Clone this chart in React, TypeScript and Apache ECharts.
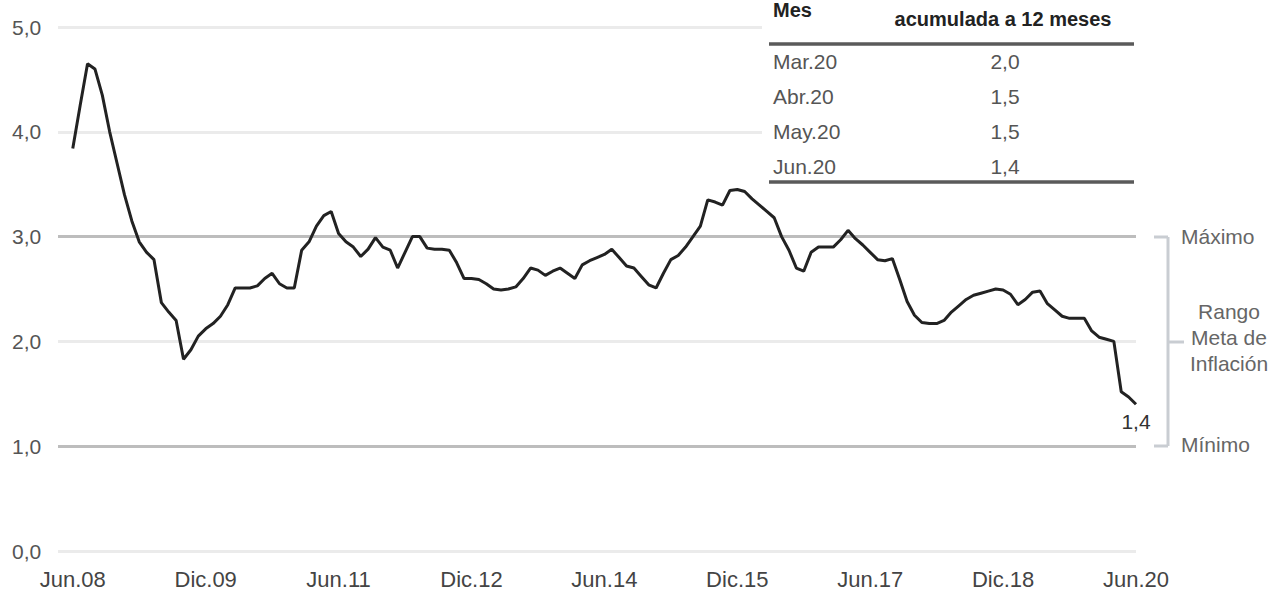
import React, { useEffect, useRef } from "react";
import * as echarts from "echarts";

// Monthly 12-month inflation, Jun.08 .. Jun.20 (145 points)
const INFLATION: number[] = [
  3.84, 4.25, 4.65, 4.6, 4.35, 4.0, 3.7, 3.4, 3.15, 2.95, 2.85, 2.78,
  2.37, 2.28, 2.2, 1.83, 1.92, 2.05, 2.12, 2.17, 2.24, 2.35, 2.51, 2.51,
  2.51, 2.53, 2.6, 2.65, 2.55, 2.51, 2.51, 2.87, 2.95, 3.1, 3.2, 3.24,
  3.03, 2.95, 2.9, 2.81, 2.88, 2.99, 2.9, 2.87, 2.7, 2.85, 3.0, 3.0,
  2.89, 2.88, 2.88, 2.87, 2.75, 2.6, 2.6, 2.59, 2.55, 2.5, 2.49, 2.5,
  2.52, 2.6, 2.7, 2.68, 2.63, 2.67, 2.7, 2.65, 2.6, 2.73, 2.77, 2.8,
  2.83, 2.88, 2.8, 2.72, 2.7, 2.62, 2.54, 2.51, 2.65, 2.78, 2.82, 2.9,
  3.0, 3.1, 3.35, 3.33, 3.3, 3.44, 3.45, 3.43, 3.36, 3.3, 3.24, 3.18,
  3.0, 2.87, 2.7, 2.67, 2.85, 2.9, 2.9, 2.9, 2.97, 3.06, 2.98, 2.92,
  2.85, 2.78, 2.77, 2.79, 2.59, 2.38, 2.25, 2.18, 2.17, 2.17, 2.2, 2.28,
  2.34, 2.4, 2.44, 2.46, 2.48, 2.5, 2.49, 2.45, 2.35, 2.4, 2.47, 2.48,
  2.36, 2.3, 2.24, 2.22, 2.22, 2.22, 2.1, 2.04, 2.02, 2.0, 1.52, 1.47,
  1.4,
];

const MONTH_NAMES = ["Ene", "Feb", "Mar", "Abr", "May", "Jun", "Jul", "Ago", "Sep", "Oct", "Nov", "Dic"];
const START_MONTH = 5; // Jun
const START_YEAR = 8; // 2008
const LEAD_PAD = 2; // empty slots left of the first month
const LABEL_EVERY = 18;

const Y_TICKS = [0, 1, 2, 3, 4, 5];
const TARGET_MAX = 3;
const TARGET_MIN = 1;

const TABLE_MONTHS = ["Mar.20", "Abr.20", "May.20", "Jun.20"];
const TABLE_VALUES = [2.0, 1.5, 1.5, 1.4];

const comma = (v: number) => v.toFixed(1).replace(".", ",");

const MONTH_LABELS: string[] = INFLATION.map((_, i) => {
  const m = START_MONTH + i;
  const y = START_YEAR + Math.floor(m / 12);
  return MONTH_NAMES[m % 12] + "." + String(y).padStart(2, "0");
});

const CATEGORIES = [...Array(LEAD_PAD).fill(""), ...MONTH_LABELS];

const FONT = "'Liberation Sans', Arial, sans-serif";

export default function App() {
  const ref = useRef<HTMLDivElement>(null);

  useEffect(() => {
    if (!ref.current) return;
    const chart = echarts.init(ref.current, undefined, { renderer: "svg" });

    const lastVal = INFLATION[INFLATION.length - 1];
    const seriesData: any[] = [...Array(LEAD_PAD).fill(null), ...INFLATION];

    const tFont = `21px ${FONT}`;
    const tableText: any[] = [];
    tableText.push({
      type: "rect",
      shape: { x: 762, y: 0, width: 380, height: 188 },
      style: { fill: "#fff" },
      z: 10,
    });
    tableText.push({
      type: "text",
      x: 773,
      y: 0,
      z: 11,
      style: { text: "Mes", font: `bold 20px ${FONT}`, fill: "#222", verticalAlign: "top" },
    });
    tableText.push({
      type: "text",
      x: 1003,
      y: 19,
      z: 11,
      style: {
        text: "acumulada a 12 meses",
        font: `bold 20px ${FONT}`,
        fill: "#222",
        align: "center",
        verticalAlign: "middle",
      },
    });
    tableText.push({
      type: "line",
      z: 11,
      shape: { x1: 769, y1: 44, x2: 1134, y2: 44 },
      style: { stroke: "#5a5a5a", lineWidth: 3.5 },
    });
    TABLE_MONTHS.forEach((m, k) => {
      const y = 61 + k * 35.3;
      tableText.push({
        type: "text",
        x: 773,
        y,
        z: 11,
        style: { text: m, font: tFont, fill: "#555", align: "left", verticalAlign: "middle" },
      });
      tableText.push({
        type: "text",
        x: 1005,
        y,
        z: 11,
        style: {
          text: comma(TABLE_VALUES[k]),
          font: tFont,
          fill: "#555",
          align: "center",
          verticalAlign: "middle",
        },
      });
    });
    tableText.push({
      type: "line",
      z: 11,
      shape: { x1: 769, y1: 182, x2: 1134, y2: 182 },
      style: { stroke: "#5a5a5a", lineWidth: 3.5 },
    });

    const bracketColor = "#c9cdd2";
    const annot: any[] = [
      { type: "line", shape: { x1: 1168, y1: 237, x2: 1168, y2: 446 }, style: { stroke: bracketColor, lineWidth: 3 } },
      { type: "line", shape: { x1: 1154, y1: 237, x2: 1168, y2: 237 }, style: { stroke: bracketColor, lineWidth: 3 } },
      { type: "line", shape: { x1: 1154, y1: 446, x2: 1168, y2: 446 }, style: { stroke: bracketColor, lineWidth: 3 } },
      { type: "line", shape: { x1: 1168, y1: 342, x2: 1184, y2: 342 }, style: { stroke: bracketColor, lineWidth: 3 } },
      {
        type: "text",
        x: 1181,
        y: 236,
        style: { text: "Máximo", font: tFont, fill: "#666", align: "left", verticalAlign: "middle" },
      },
      {
        type: "text",
        x: 1181,
        y: 444,
        style: { text: "Mínimo", font: tFont, fill: "#666", align: "left", verticalAlign: "middle" },
      },
      {
        type: "text",
        x: 1229,
        y: 337,
        style: {
          text: "Rango\nMeta de\nInflación",
          font: tFont,
          lineHeight: 26,
          fill: "#666",
          align: "center",
          verticalAlign: "middle",
        },
      },
    ];

    chart.setOption({
      animation: false,
      backgroundColor: "#fff",
      grid: { left: 58, right: 132, top: 27, bottom: 42, containLabel: false },
      xAxis: {
        type: "category",
        data: CATEGORIES,
        boundaryGap: false,
        axisLine: { show: false },
        axisTick: { show: false },
        splitLine: { show: false },
        axisLabel: {
          interval: (idx: number) => idx >= LEAD_PAD && (idx - LEAD_PAD) % LABEL_EVERY === 0,
          margin: 17,
          color: "#444",
          fontSize: 22,
          fontFamily: FONT,
          showMaxLabel: true,
        },
      },
      yAxis: {
        type: "value",
        min: Y_TICKS[0],
        max: Y_TICKS[Y_TICKS.length - 1],
        interval: 1,
        axisLine: { show: false },
        axisTick: { show: false },
        splitLine: { show: true, lineStyle: { color: "#ebebeb", width: 3 } },
        axisLabel: {
          align: "left",
          margin: 46,
          color: "#555",
          fontSize: 21,
          fontFamily: FONT,
          formatter: (v: number) => comma(v),
        },
      },
      series: [
        {
          type: "line",
          data: seriesData,
          symbol: "none",
          connectNulls: false,
          lineStyle: { color: "#222", width: 3 },
          z: 5,
          markLine: {
            silent: true,
            symbol: "none",
            label: { show: false },
            lineStyle: { color: "#bdbdbd", width: 3, type: "solid" },
            data: [{ yAxis: TARGET_MAX }, { yAxis: TARGET_MIN }],
            z: 1,
          },
          markPoint: {
            silent: true,
            symbol: "circle",
            symbolSize: 2,
            itemStyle: { color: "rgba(0,0,0,0)" },
            label: {
              show: true,
              position: "bottom",
              distance: 6,
              color: "#333",
              fontSize: 21,
              fontFamily: FONT,
              formatter: () => comma(lastVal),
            },
            data: [{ coord: [CATEGORIES.length - 1, lastVal], value: lastVal }],
          },
        },
      ],
      graphic: [...tableText, ...annot],
    });

    return () => chart.dispose();
  }, []);

  return (
    <div
      ref={ref}
      style={{ position: "fixed", left: 0, top: 0, width: 1268, height: 593, background: "#fff" }}
    />
  );
}
